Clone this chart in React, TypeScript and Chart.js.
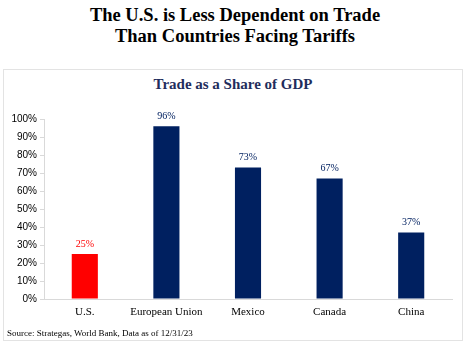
import React, { useEffect, useRef } from "react";
import { Chart, registerables } from "chart.js";

Chart.register(...registerables);

const categories = ["U.S.", "European Union", "Mexico", "Canada", "China"];
const tradeShare = [25, 96, 73, 67, 37];
const barColors = ["#ff0000", "#002060", "#002060", "#002060", "#002060"];
const labelColors = ["#ff0000", "#002060", "#002060", "#002060", "#002060"];
const yTicks = [0, 10, 20, 30, 40, 50, 60, 70, 80, 90, 100];

const labelPlugin = {
  id: "barLabels",
  afterDatasetsDraw(chart: any) {
    const { ctx } = chart;
    const meta = chart.getDatasetMeta(0);
    ctx.save();
    ctx.font = "10px 'Liberation Serif'";
    ctx.textAlign = "center";
    ctx.textBaseline = "bottom";
    meta.data.forEach((bar: any, i: number) => {
      ctx.fillStyle = labelColors[i];
      ctx.fillText(tradeShare[i] + "%", bar.x, bar.y - 5);
    });
    ctx.restore();
  },
};

export default function App() {
  const ref = useRef<HTMLCanvasElement>(null);
  useEffect(() => {
    if (!ref.current) return;
    const chart = new Chart(ref.current, {
      type: "bar",
      data: {
        labels: categories,
        datasets: [
          {
            data: tradeShare,
            backgroundColor: barColors,
            borderWidth: 0,
            categoryPercentage: 1,
            barPercentage: 0.32,
          },
        ],
      },
      options: {
        animation: false,
        responsive: false,
        maintainAspectRatio: false,
        layout: { padding: { top: 49, right: 10, left: 0, bottom: 0 } },
        plugins: {
          legend: { display: false },
          tooltip: { enabled: false },
          title: { display: false },
        },
        scales: {
          x: {
            grid: { display: false, drawTicks: false },
            border: { display: true, color: "#d9d9d9" },
            ticks: {
              color: "#000",
              font: { family: "'Liberation Serif'", size: 11 },
              padding: 7,
              maxRotation: 0,
              autoSkip: false,
            },
            afterFit: (s: any) => {
              s.height = 43;
            },
          },
          y: {
            min: 0,
            max: 100,
            afterBuildTicks: (s: any) => {
              s.ticks = yTicks.map((v) => ({ value: v }));
            },
            grid: {
              drawOnChartArea: false,
              drawTicks: true,
              tickLength: 4,
              color: "#d9d9d9",
            },
            border: { display: true, color: "#d9d9d9" },
            ticks: {
              color: "#000",
              font: { family: "'Liberation Sans'", size: 10 },
              padding: 3,
              callback: (v: any) => v + "%",
            },
            afterFit: (s: any) => {
              s.width = 40;
            },
          },
        },
      },
      plugins: [labelPlugin],
    });
    return () => chart.destroy();
  }, []);

  return (
    <div
      style={{
        position: "absolute",
        left: 0,
        top: 0,
        width: 470,
        height: 346,
        background: "#fff",
        overflow: "hidden",
      }}
    >
      <div
        style={{
          position: "absolute",
          left: 0,
          top: 5,
          width: 470,
          textAlign: "center",
          fontFamily: "'Liberation Serif', serif",
          fontWeight: "bold",
          fontSize: 18.5,
          lineHeight: "21px",
          color: "#000",
        }}
      >
        The U.S. is Less Dependent on Trade
        <br />
        Than Countries Facing Tariffs
      </div>
      <div
        style={{
          position: "absolute",
          left: 3,
          top: 69,
          width: 460,
          height: 272,
          border: "1px solid #e3e3e3",
          boxSizing: "border-box",
        }}
      >
        <div
          style={{
            position: "absolute",
            left: 0,
            top: 6,
            width: 458,
            textAlign: "center",
            fontFamily: "'Liberation Serif', serif",
            fontWeight: "bold",
            fontSize: 15,
            color: "#1f2d5c",
          }}
        >
          Trade as a Share of GDP
        </div>
        <canvas
          ref={ref}
          width={458}
          height={272}
          style={{ position: "absolute", left: 0, top: 0, width: 458, height: 272 }}
        />
        <div
          style={{
            position: "absolute",
            left: 3,
            top: 258,
            fontFamily: "'Liberation Serif', serif",
            fontSize: 9,
            color: "#000",
            whiteSpace: "nowrap",
          }}
        >
          Source: Strategas, World Bank, Data as of 12/31/23
        </div>
      </div>
    </div>
  );
}
